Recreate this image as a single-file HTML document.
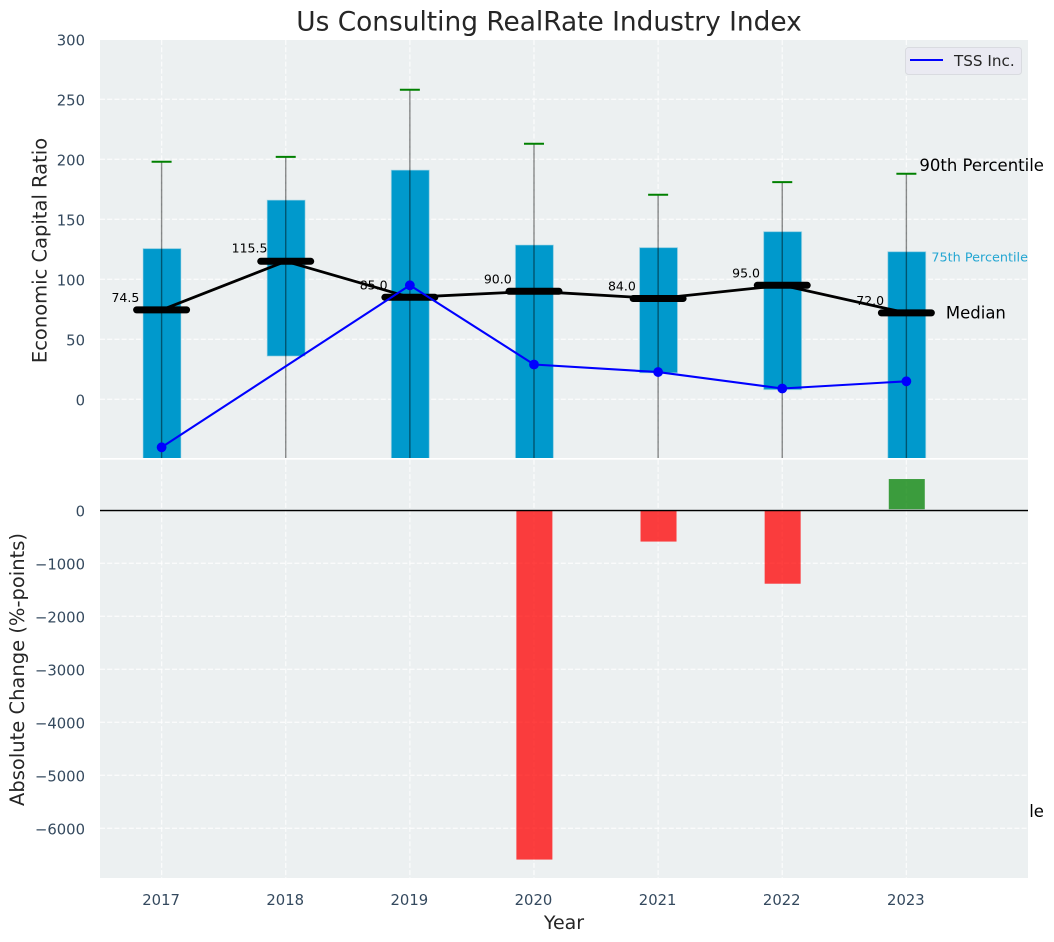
<!DOCTYPE html>
<html>
<head>
<meta charset="utf-8">
<title>Us Consulting RealRate Industry Index</title>
<style>
html,body{margin:0;padding:0;background:#fff;}
svg{display:block;font-family:"DejaVu Sans","Liberation Sans",sans-serif;}
</style>
</head>
<body>
<svg id="chart" xmlns="http://www.w3.org/2000/svg" width="1054" height="942" viewBox="0 0 1054 942"></svg>
<script>
const years = [2017, 2018, 2019, 2020, 2021, 2022, 2023];
const p90 = [198, 202, 258, 213, 170.5, 181, 188];
const p75 = [125.6, 166, 191, 128.6, 126.4, 139.7, 123];
const medians = [74.5, 115, 85, 90, 84, 95, 72];
const medianLabels = [74.5, 115.5, 85.0, 90.0, 84.0, 95.0, 72.0];
const p25 = [-70, 36, -75, -80, 22, 8, -90];
const p10 = [-200, -180, -240, -260, -150, -170, -350];
const tss = [-40, null, 95, 29, 22.7, 9, 15];
const absoluteChange = [null, null, null, -6590, -590, -1385, 590];
const topTicks = [0, 50, 100, 150, 200, 250, 300];
const bottomTicks = [0, -1000, -2000, -3000, -4000, -5000, -6000];

const NS = 'http://www.w3.org/2000/svg';
const svg = document.getElementById('chart');
const plotLeft = 100, plotRight = 1028;
const topPanelTop = 40, topPanelBottom = 458;
const bottomPanelTop = 459.7, bottomPanelBottom = 878;

function x(year) { return 161.6 + (year - 2017) * 124.13; }
function yTop(v) { return 399.3 - v * 1.2; }
function yBottom(v) { return 510.3 - v * 0.053; }
function fmtTick(v) { return String(v).replace('-', '\u2212'); }

function make(tag, attrs, parent) {
  const node = document.createElementNS(NS, tag);
  for (const k in attrs) node.setAttribute(k, attrs[k]);
  (parent || svg).appendChild(node);
  return node;
}

const defs = make('defs', {});
const clip = make('clipPath', { id: 'top-clip' }, defs);
make('rect', { x: plotLeft, y: topPanelTop, width: plotRight - plotLeft, height: topPanelBottom - topPanelTop }, clip);

/* ---------- title ---------- */
const title = make('text', { x: 549, y: 30.5, 'text-anchor': 'middle', 'font-size': 26.4, fill: '#262626' });
title.textContent = 'Us Consulting RealRate Industry Index';



/* ---------- top panel ---------- */
const topPanel = make('rect', { x: plotLeft, y: topPanelTop, width: plotRight - plotLeft, height: topPanelBottom - topPanelTop, fill: '#ecf0f1' });



topTicks.forEach(function (t) {
  const line = make('line', { x1: plotLeft, x2: plotRight, y1: yTop(t), y2: yTop(t), stroke: '#fff', 'stroke-width': 1.3, 'stroke-dasharray': '5 2.2', opacity: 0.75 });
  
  
  const label = make('text', { x: 85, y: yTop(t) + 6.4, 'text-anchor': 'end', 'font-size': 14.8, fill: '#34495e' });
  label.textContent = fmtTick(t);
  
  
});

years.forEach(function (yr) {
  const line = make('line', { x1: x(yr), x2: x(yr), y1: topPanelTop, y2: topPanelBottom, stroke: '#fff', 'stroke-width': 1.3, 'stroke-dasharray': '5 2.2', opacity: 0.75 });
  
  
});

const topMarks = make('g', { 'clip-path': 'url(#top-clip)' });



years.forEach(function (yr, i) {
  const box = make('rect', { x: x(yr) - 18.6, y: yTop(p75[i]), width: 38, height: yTop(p25[i]) - yTop(p75[i]), fill: '#0099cc', stroke: '#add8e6', 'stroke-opacity': 0.6, 'stroke-width': 1 }, topMarks);
  
  
});

years.forEach(function (yr, i) {
  const whisker = make('line', { x1: x(yr), x2: x(yr), y1: yTop(p90[i]), y2: yTop(p10[i]), stroke: '#000', 'stroke-opacity': 0.45, 'stroke-width': 1.4 }, topMarks);
  
  
  const cap = make('line', { x1: x(yr) - 10, x2: x(yr) + 10, y1: yTop(p90[i]), y2: yTop(p90[i]), stroke: '#008000', 'stroke-width': 2 }, topMarks);
  
  
});

years.forEach(function (yr, i) {
  const label = make('text', { x: x(yr) - 36.2, y: yTop(medianLabels[i]) - 8, 'text-anchor': 'middle', 'font-size': 12.5, fill: '#000' });
  label.textContent = medianLabels[i].toFixed(1);
  
  
});

const medianLine = make('polyline', { points: years.map(function (yr, i) { return x(yr) + ',' + yTop(medians[i]); }).join(' '), fill: 'none', stroke: '#000', 'stroke-width': 2.8 }, topMarks);



years.forEach(function (yr, i) {
  const bar = make('line', { x1: x(yr) - 25, x2: x(yr) + 25, y1: yTop(medians[i]), y2: yTop(medians[i]), stroke: '#000', 'stroke-width': 7, 'stroke-linecap': 'round' }, topMarks);
  
  
});

const tssPoints = [];
years.forEach(function (yr, i) {
  if (tss[i] !== null) tssPoints.push(x(yr) + ',' + yTop(tss[i]));
});
const tssLine = make('polyline', { points: tssPoints.join(' '), fill: 'none', stroke: '#0000ff', 'stroke-width': 2.1 }, topMarks);



years.forEach(function (yr, i) {
  if (tss[i] === null) return;
  const dot = make('circle', { cx: x(yr), cy: yTop(tss[i]), r: 4.9, fill: '#0000ff' }, topMarks);
  
  
});

/* ---------- annotations on last year ---------- */
const lastIndex = years.length - 1;
const lastX = x(years[lastIndex]);

const note90 = make('text', { x: lastX + 13, y: yTop(p90[lastIndex]) - 2.5, 'font-size': 16.5, fill: '#000' });
note90.textContent = '90th Percentile';



const note75 = make('text', { x: lastX + 25, y: yTop(p75[lastIndex]) + 10, 'font-size': 12.8, fill: '#0099cc', 'fill-opacity': 0.85 });
note75.textContent = '75th Percentile';



const noteMedian = make('text', { x: lastX + 39.5, y: yTop(medians[lastIndex]) + 5.5, 'font-size': 16.5, fill: '#000' });
noteMedian.textContent = 'Median';



const note10 = make('text', { x: lastX + 13, y: yTop(p10[lastIndex]) - 2.5, 'font-size': 16.5, fill: '#000' });
note10.textContent = '10th Percentile';



/* ---------- legend ---------- */
const legend = make('g', {});


const legendBox = make('rect', { x: 905.5, y: 47.5, width: 116, height: 27, rx: 3, fill: '#eaeaf2', stroke: '#d9dbe0', 'stroke-width': 1 }, legend);


const legendLine = make('line', { x1: 910, x2: 943, y1: 60, y2: 60, stroke: '#0000ff', 'stroke-width': 2.1 }, legend);


const legendText = make('text', { x: 954, y: 66, 'font-size': 15.2, fill: '#262626' }, legend);
legendText.textContent = 'TSS Inc.';



/* ---------- bottom panel (covers anything from the top panel that falls behind it) ---------- */
const bottomPanel = make('rect', { x: plotLeft, y: bottomPanelTop, width: plotRight - plotLeft, height: bottomPanelBottom - bottomPanelTop, fill: '#ecf0f1' });



bottomTicks.forEach(function (t) {
  const line = make('line', { x1: plotLeft, x2: plotRight, y1: yBottom(t), y2: yBottom(t), stroke: '#fff', 'stroke-width': 1.3, 'stroke-dasharray': '5 2.2', opacity: 0.75 });
  
  
  const label = make('text', { x: 85, y: yBottom(t) + 6.4, 'text-anchor': 'end', 'font-size': 14.8, fill: '#34495e' });
  label.textContent = fmtTick(t);
  
  
});

years.forEach(function (yr) {
  const line = make('line', { x1: x(yr), x2: x(yr), y1: bottomPanelTop, y2: bottomPanelBottom, stroke: '#fff', 'stroke-width': 1.3, 'stroke-dasharray': '5 2.2', opacity: 0.75 });
  
  
  const label = make('text', { x: x(yr) - 0.5, y: 905, 'text-anchor': 'middle', 'font-size': 14.8, fill: '#34495e' });
  label.textContent = String(yr);
  
  
});

years.forEach(function (yr, i) {
  const v = absoluteChange[i];
  if (v === null) return;
  const yA = yBottom(Math.max(v, 0));
  const yB = yBottom(Math.min(v, 0));
  const bar = make('rect', { x: x(yr) - 17.6, y: yA, width: 36, height: yB - yA, fill: v < 0 ? '#ff0000' : '#008000', 'fill-opacity': 0.75 });
  
  
});

const zeroGridLine = make('line', { x1: plotLeft, x2: plotRight, y1: yBottom(0) - 0.6, y2: yBottom(0) - 0.6, stroke: '#b0b4b6', 'stroke-width': 1 });



const zeroLine = make('line', { x1: plotLeft, x2: plotRight, y1: yBottom(0) + 0.3, y2: yBottom(0) + 0.3, stroke: '#000', 'stroke-width': 1.2 });



/* ---------- axis titles ---------- */
const yTitleTop = make('text', { x: 0, y: 0, 'text-anchor': 'middle', 'font-size': 19.5, fill: '#262626', transform: 'translate(46.5 250.5) rotate(-90)' });
yTitleTop.textContent = 'Economic Capital Ratio';



const yTitleBottom = make('text', { x: 0, y: 0, 'text-anchor': 'middle', 'font-size': 19.5, fill: '#262626', transform: 'translate(24 669.5) rotate(-90)' });
yTitleBottom.textContent = 'Absolute Change (%-points)';



const xTitle = make('text', { x: 564, y: 929, 'text-anchor': 'middle', 'font-size': 19, fill: '#262626' });
xTitle.textContent = 'Year';


</script>
</body>
</html>
